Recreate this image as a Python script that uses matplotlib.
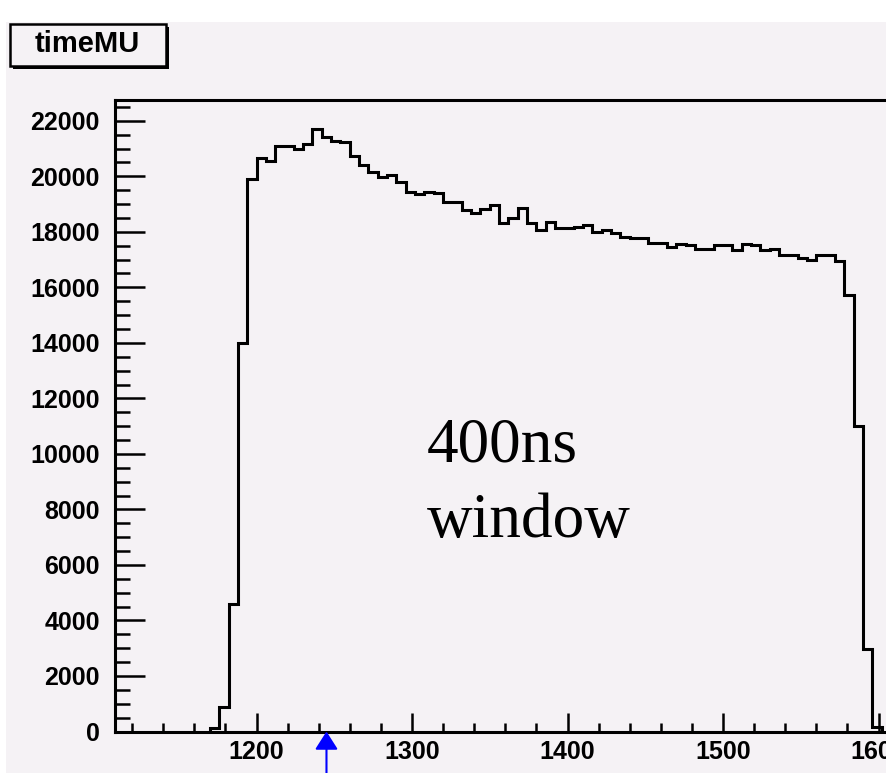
''' timeMU histogram, ROOT style look
    400ns window marked with an arrow at the peak
'''
import numpy as np
import matplotlib.pyplot as plt
from matplotlib.patches import Rectangle

# histogram data (6 ns bins)
bin_start = 1170
bin_width = 6
counts = [120, 870, 4590, 14000, 19900, 20650, 20550, 21110, 21110, 21000,
          21180, 21710, 21410, 21290, 21240, 20720, 20410, 20170, 19990, 20040,
          19800, 19440, 19380, 19440, 19390, 19090, 19080, 18780, 18680, 18830,
          18960, 18310, 18500, 18860, 18320, 18080, 18350, 18140, 18140, 18190,
          18260, 18010, 18080, 17960, 17830, 17780, 17780, 17600, 17600, 17470,
          17570, 17510, 17390, 17390, 17540, 17540, 17360, 17570, 17510, 17330,
          17390, 17180, 17180, 17060, 17000, 17180, 17180, 16940, 15740, 11000,
          2970, 150]
x_ticks = [1200, 1300, 1400, 1500, 1600]
y_ticks = [0, 2000, 4000, 6000, 8000, 10000, 12000, 14000, 16000, 18000, 20000, 22000]
arrow_x = 1245
title = "timeMU"
note = ["400ns", "window"]

BG = '#f5f2f5'
W, H = 886, 773

def px(x, y):
    ''' pixel coords (from top left) -> figure fraction '''
    return x / W, 1 - y / H

fig = plt.figure(figsize=(W / 100, H / 100), dpi=100, facecolor='white')
# pad colour, leaves a white strip on top and left
fig.patches.append(Rectangle(px(6, H), 1 - 6 / W, 1 - 22 / H, transform=fig.transFigure,
                             facecolor=BG, edgecolor='none', zorder=-5))

# axes run past the right edge of the picture (cropped slide)
left, bottom = px(115, 731.5)
_, top = px(0, 100)
x0, x1 = 1109, 1710
ax = fig.add_axes([left, bottom, (x1 - x0) * 1.555 / W, top - bottom])
ax.set_facecolor(BG)

edges = bin_start + bin_width * np.arange(len(counts) + 1)
ax.stairs(counts, edges, color='black', linewidth=2.2, baseline=0)

ax.set_xlim(x0, x1)
ax.set_ylim(0, 22750)
ax.set_xticks(x_ticks)
ax.set_xticks(np.arange(1120, 1700, 20), minor=True)
ax.set_yticks(y_ticks)
ax.set_yticks(np.arange(0, 22750, 500), minor=True)

for s in ax.spines.values():
    s.set_linewidth(2.2)
ax.spines['right'].set_visible(False)

ax.tick_params(axis='both', which='both', direction='in', width=1.8,
               top=False, right=False, labelsize=18)
ax.tick_params(axis='y', which='major', length=21.6, pad=11)
ax.tick_params(axis='y', which='minor', length=10.8)
ax.tick_params(axis='x', which='major', length=13.7, pad=6)
ax.tick_params(axis='x', which='minor', length=6.5)
for lab in ax.get_xticklabels() + ax.get_yticklabels():
    lab.set_fontweight('bold')
    lab.set_fontfamily('Liberation Sans')

# blue arrow pointing at the peak from below the axis
ax.annotate('', xy=(arrow_x, 0), xycoords=('data', 'axes fraction'),
            xytext=(arrow_x, -0.07), textcoords=('data', 'axes fraction'),
            annotation_clip=False,
            arrowprops=dict(arrowstyle='-|>,head_width=0.7,head_length=1.1',
                            color='blue', lw=1.5, shrinkA=0, shrinkB=0))

# the big label in Times
tx, ty = px(427, 462)
fig.text(tx, ty, note[0], fontsize=45.5, family='Liberation Serif', va='baseline')
tx, ty = px(427, 537)
fig.text(tx, ty, note[1], fontsize=45.5, family='Liberation Serif', va='baseline')

# title box with shadow
bx, by = px(13, 69)
fig.patches.append(Rectangle((bx, by), 156 / W, 42 / H, transform=fig.transFigure,
                             facecolor='black', edgecolor='none', zorder=3))
bx, by = px(10, 66)
fig.patches.append(Rectangle((bx, by), 156 / W, 42 / H, transform=fig.transFigure,
                             facecolor=BG, edgecolor='black', linewidth=1.8, zorder=4))
tx, ty = px(87, 44)
fig.text(tx, ty, title, fontsize=21, fontweight='bold', family='Liberation Sans',
         ha='center', va='center', zorder=5)

plt.savefig('out.png', dpi=100, facecolor=fig.get_facecolor())
